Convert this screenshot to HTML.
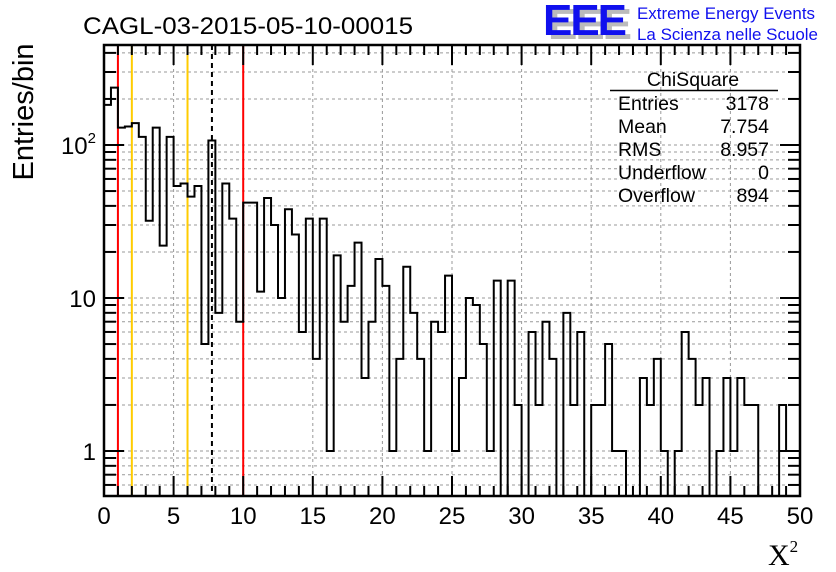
<!DOCTYPE html>
<html><head><meta charset="utf-8"><style>
body{margin:0;background:#fff}
svg{display:block;font-family:"Liberation Sans",sans-serif}
</style></head><body>
<svg id="c" width="836" height="572" xmlns="http://www.w3.org/2000/svg">
<rect width="836" height="572" fill="#fff"/>
<g id="grid"></g>
<g id="refs"></g>
<path id="hist" fill="none" stroke="#000" stroke-width="2"/>
<g id="axes"></g>
<text x="248" y="34" font-size="24" text-anchor="middle" textLength="330" lengthAdjust="spacingAndGlyphs">CAGL-03-2015-05-10-00015</text>
<text transform="translate(33,112) rotate(-90)" font-size="29" text-anchor="middle">Entries/bin</text>
<text x="768" y="565" font-size="30" font-family="Liberation Serif,serif">X<tspan font-size="17" dy="-13">2</tspan></text>
<g>
<text x="548" y="39" font-size="44" font-weight="bold" fill="#bbb" textLength="84">EEE</text>
<text x="543" y="35" font-size="44" font-weight="bold" fill="#1010ee" textLength="84">EEE</text>
<text x="637" y="19" font-size="17" fill="#1010ee" textLength="178" lengthAdjust="spacingAndGlyphs">Extreme Energy Events</text>
<text x="637" y="40" font-size="17" fill="#1010ee" textLength="181" lengthAdjust="spacingAndGlyphs">La Scienza nelle Scuole</text>
</g>
<g font-size="19.5">
<text x="693" y="86" text-anchor="middle">ChiSquare</text>
<line x1="610" y1="90.5" x2="778" y2="90.5" stroke="#000" stroke-width="1.5"/>
<text x="618" y="110">Entries</text><text x="769" y="110" text-anchor="end">3178</text>
<text x="618" y="133">Mean</text><text x="769" y="133" text-anchor="end">7.754</text>
<text x="618" y="156">RMS</text><text x="769" y="156" text-anchor="end">8.957</text>
<text x="618" y="179">Underflow</text><text x="769" y="179" text-anchor="end">0</text>
<text x="618" y="202">Overflow</text><text x="769" y="202" text-anchor="end">894</text>
</g>
</svg>
<script>
const counts=[183,237,130,132,139,113,32,130,22,113,54,56,46,54,5,107,8,56,33,7,42,42,11,45,30,10,38,26,6,33,4,33,1,19,7,12,23,3,7,18,12,1,4,16,8,4,1,7,6,14,1,3,10,9,5,1,13,0,13,2,0,6,2,7,4,0,8,2,6,0,2,2,5,1,1,0,0,3,2,4,1,0,1,6,4,2,3,0,1,3,1,3,2,2,0,0,0,2,1,1];
const xTicks=[0,5,10,15,20,25,30,35,40,45,50];
const refRed=[1,10];
const refOrange=[2,6];
const meanVal=[7.754];
const X0=104,X1=800,YT=45,YB=496;
const xs=v=>X0+(X1-X0)*v/50;
const ys=v=>451-153*Math.log10(v);
const NS='http://www.w3.org/2000/svg';
function mk(p,t,a){const e=document.createElementNS(NS,t);for(const k in a)e.setAttribute(k,a[k]);p.appendChild(e);return e;}
const grid=document.getElementById('grid'),axes=document.getElementById('axes'),refs=document.getElementById('refs');
xTicks.forEach(t=>{if(t>0&&t<50){const l=mk(grid,'line',{x1:xs(t),x2:xs(t),y1:YT,y2:YB,stroke:'#999','stroke-dasharray':'3,3'});}});
for(let d=0.1;d<=100;d*=10){for(let m=1;m<10;m++){const v=d*m;const y=ys(v);if(y<=YT||y>=YB)continue;
const l=mk(grid,'line',{x1:X0,x2:X1,y1:y,y2:y,stroke:'#999','stroke-dasharray':'3,3'});
const len=(m===1)?20:12;
const t1=mk(axes,'line',{x1:X0,x2:X0+len,y1:y,y2:y,stroke:'#000','stroke-width':2});
const t2=mk(axes,'line',{x1:X1-len,x2:X1,y1:y,y2:y,stroke:'#000','stroke-width':2});}}
function vline(v,col,dash,name){const l=mk(refs,'line',{x1:xs(v),x2:xs(v),y1:YT,y2:YB,stroke:col,'stroke-width':2});if(dash)l.setAttribute('stroke-dasharray',dash);}
refRed.forEach(v=>vline(v,'#f00',null,'red-reference-line'));
refOrange.forEach(v=>vline(v,'#fc0',null,'orange-reference-line'));
meanVal.forEach(v=>vline(v,'#000','5,4','mean-line'));
const bw=50/counts.length;let d='';
counts.forEach((c,i)=>{const y=c>0?Math.min(ys(c),YB):YB;const xa=xs(i*bw),xb=xs((i+1)*bw);d+=(i===0?'M'+xa+','+y:'L'+xa+','+y)+'L'+xb+','+y;});
d+='L'+X1+','+YB;
document.getElementById('hist').setAttribute('d',d);
const f=mk(axes,'rect',{x:X0,y:YT,width:X1-X0,height:YB-YT,fill:'none',stroke:'#000','stroke-width':2.5});
for(let i=0;i<=50;i++){const len=i%5===0?20:10;const x=xs(i);
const a=mk(axes,'line',{x1:x,x2:x,y1:YB,y2:YB-len,stroke:'#000','stroke-width':2});
const b=mk(axes,'line',{x1:x,x2:x,y1:YT,y2:YT+len,stroke:'#000','stroke-width':2});}
xTicks.forEach(t=>{const e=mk(axes,'text',{x:xs(t),y:524,'font-size':24,'text-anchor':'middle'});e.textContent=t;});
const yl=[['1',1],['10',10]];
yl.forEach(p=>{const e=mk(axes,'text',{x:96,y:ys(p[1])+9,'font-size':24,'text-anchor':'end'});e.textContent=p[0];});
const e2=mk(axes,'text',{x:96,y:ys(100)+9,'font-size':24,'text-anchor':'end'});
e2.innerHTML='10<tspan font-size="15" dy="-11">2</tspan>';
</script>
</body></html>
